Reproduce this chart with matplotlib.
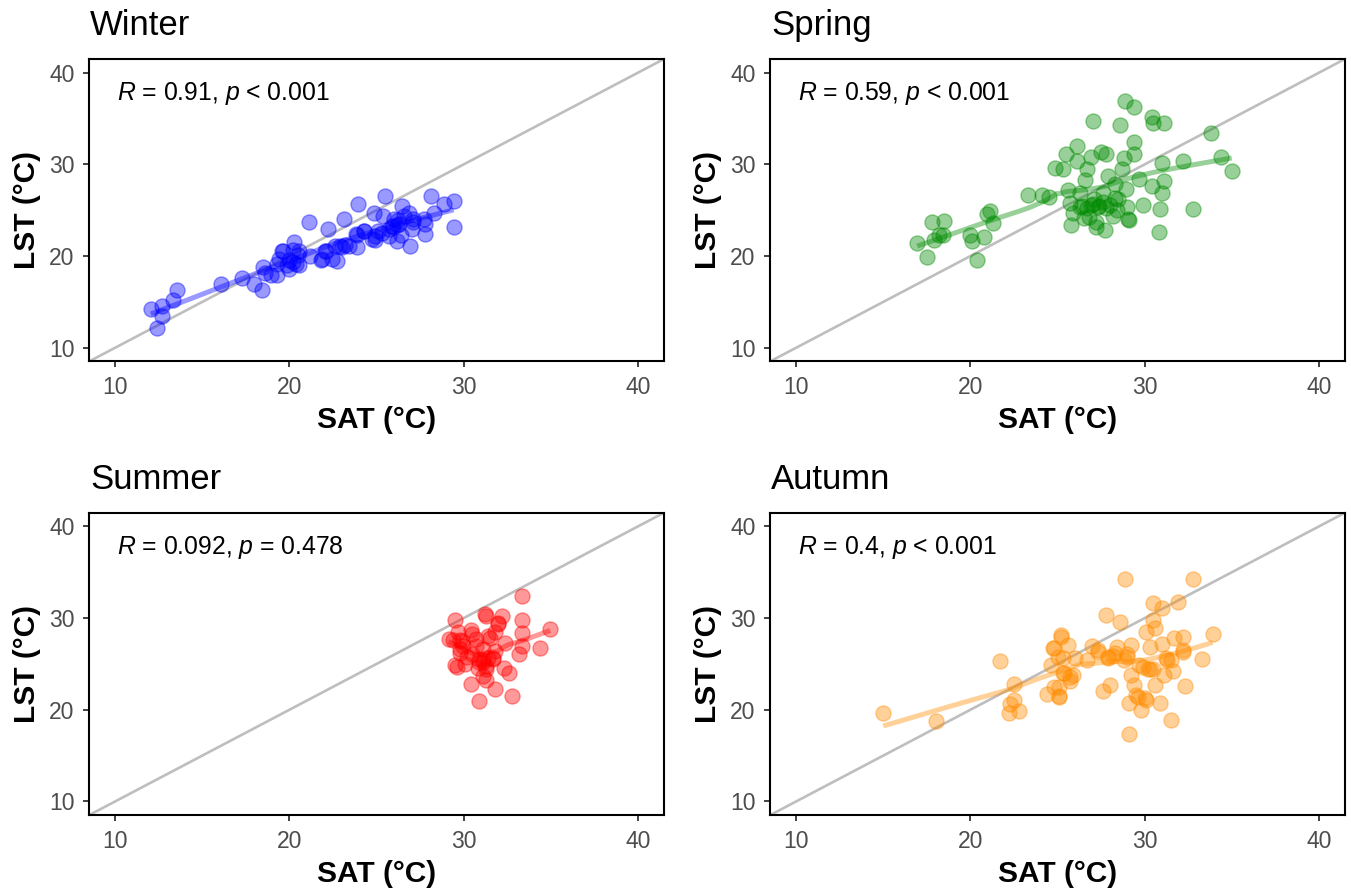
import numpy as np
import matplotlib
matplotlib.use("Agg")
import matplotlib.pyplot as plt

plt.rcParams['font.family'] = ['Liberation Sans', 'DejaVu Sans']
plt.rcParams['mathtext.fontset'] = 'custom'
plt.rcParams['mathtext.rm'] = 'Liberation Sans'
plt.rcParams['mathtext.it'] = 'Liberation Sans:italic'

seasons = ["Winter", "Spring", "Summer", "Autumn"]
colors = ["#0000FF", "#008B00", "#FF0000", "#FF8C00"]
r_values = ["0.91", "0.59", "0.092", "0.4"]
p_values = ["< 0.001", "< 0.001", "= 0.478", "< 0.001"]
ticks = [10, 20, 30, 40]

winter_sat = [12.05, 12.67, 12.7, 12.4, 13.3, 13.57, 16.1, 17.3, 17.97, 18.44, 18.5, 18.6, 18.92, 19.3,
              19.3, 19.4, 19.6, 19.65, 19.87, 19.97, 20.0, 20.2, 20.2, 20.26, 20.4, 20.5, 20.55, 20.55,
              21.12, 21.18, 21.8, 21.88, 22.07, 22.1, 22.22, 22.45, 22.6, 22.74, 22.9, 23.0, 23.12, 23.2,
              23.4, 23.8, 23.86, 23.87, 23.94, 24.27, 24.3, 24.75, 24.85, 24.9, 24.94, 25.1, 25.3, 25.4,
              25.5, 25.7, 25.7, 25.9, 25.96, 26.0, 26.15, 26.2, 26.25, 26.3, 26.4, 26.47, 26.56, 26.84,
              26.94, 27.03, 27.1, 27.1, 27.7, 27.8, 27.8, 28.1, 28.3, 28.85, 29.43, 29.43]
winter_lst = [14.2, 14.5, 13.5, 12.1, 15.2, 16.3, 17.0, 17.6, 17.0, 16.3, 18.8, 18.2, 17.9, 17.9,
              19.1, 19.7, 20.6, 20.5, 19.0, 18.6, 19.6, 19.3, 20.7, 21.5, 19.1, 20.1, 20.6, 19.0,
              23.7, 20.0, 19.6, 19.7, 20.6, 20.5, 23.0, 19.7, 21.1, 19.5, 21.1, 21.0, 24.0, 21.25,
              21.1, 22.4, 22.3, 21.0, 25.65, 22.76, 22.7, 21.85, 24.75, 21.8, 22.2, 22.7, 22.5, 24.4,
              26.55, 22.2, 23.0, 23.3, 23.2, 24.0, 23.4, 21.67, 23.9, 23.5, 22.3, 25.47, 24.4, 24.75,
              21.1, 22.95, 23.7, 24.0, 24.0, 23.5, 22.4, 26.55, 24.75, 25.65, 26.0, 23.2]

spring_sat = [16.95, 17.5, 17.8, 17.9, 18.2, 18.45, 18.5, 20.0, 20.1, 20.4, 20.8, 20.95, 21.1, 21.3,
              23.33, 24.1, 24.5, 24.86, 25.3, 25.5, 25.6, 25.7, 25.8, 25.9, 26.1, 26.1, 26.3, 26.4,
              26.6, 26.7, 26.95, 26.5, 26.9, 27.05, 27.1, 27.2, 27.4, 27.5, 27.6, 27.7, 27.8, 27.9,
              28.0, 28.2, 28.3, 28.5, 28.6, 28.7, 28.8, 28.86, 28.95, 29.05, 29.4, 29.4, 29.4, 29.7,
              29.9, 30.4, 30.4, 30.5, 30.8, 30.9, 31.0, 31.0, 31.1, 31.1, 32.2, 32.8, 33.8, 34.4, 35.0,
              26.3, 26.7, 27.05, 27.3, 27.6, 27.8, 28.3, 28.4, 27.2, 26.8, 29.0, 29.1]
spring_lst = [21.4, 19.86, 23.73, 21.7, 22.3, 22.3, 23.8, 22.3, 21.6, 19.6, 22.1, 24.56, 24.9, 23.65,
              26.63, 26.7, 26.4, 29.64, 29.5, 31.1, 27.2, 25.8, 23.4, 24.75, 32.0, 30.4, 26.9, 25.5,
              28.3, 29.5, 30.8, 24.2, 25.6, 34.7, 26.2, 23.7, 25.5, 31.3, 26.9, 22.8, 31.1, 28.7,
              25.6, 24.4, 27.9, 26.2, 34.35, 29.5, 30.7, 36.9, 27.3, 24.0, 36.3, 32.4, 31.1, 28.4,
              25.6, 35.2, 27.6, 34.5, 22.6, 25.1, 30.2, 26.9, 34.5, 28.2, 30.4, 25.1, 33.4, 30.8, 29.3,
              25.4, 25.2, 25.7, 25.4, 25.9, 25.2, 26.3, 25.05, 23.2, 24.3, 25.4, 23.9]

summer_sat = [33.34, 29.48, 31.2, 32.2, 32.0, 33.34, 34.97, 33.34, 29.7, 30.4, 29.14, 29.9, 30.7, 31.4,
              31.8, 32.4, 33.34, 33.2, 34.4, 29.8, 30.5, 30.9, 31.1, 31.4, 31.7, 29.5, 30.1, 31.3,
              32.3, 32.6, 31.1, 31.3, 30.4, 31.8, 30.9, 32.8, 30.7, 31.1, 31.8,
              29.8, 29.4, 29.98, 30.9, 31.1, 30.8, 31.3, 31.7, 29.8, 29.6, 30.5, 31.3, 31.98, 31.5, 30.2]
summer_lst = [32.4, 29.8, 30.4, 30.2, 29.5, 29.8, 28.8, 28.4, 28.5, 28.7, 27.7, 27.5, 27.7, 28.0,
              28.5, 27.3, 27.0, 26.1, 26.7, 26.6, 26.1, 25.5, 25.2, 25.7, 25.5, 24.9, 25.0, 24.4,
              24.6, 24.0, 23.7, 23.3, 22.8, 22.3, 21.0, 21.5, 27.0, 26.6, 26.4,
              27.6, 27.6, 27.0, 25.2, 25.4, 24.6, 24.8, 25.6, 26.2, 24.7, 28.3, 30.2, 29.4, 27.8, 25.8]

autumn_sat = [15.0, 18.0, 21.7, 22.5, 22.5, 22.3, 22.2, 22.8, 24.4, 24.6, 24.8, 25.1, 25.1, 25.2, 25.3,
              25.4, 25.6, 25.7, 25.9, 26.0, 26.7, 27.0, 27.3, 27.6, 27.8, 27.9, 28.0, 28.2, 28.4, 28.6,
              28.8, 28.9, 29.0, 29.1, 29.1, 29.2, 29.2, 29.4, 29.5, 29.7, 29.8, 30.0, 30.1, 30.2, 30.3,
              30.5, 30.5, 30.6, 30.5, 30.6, 30.9, 31.0, 31.0, 31.1, 31.2, 31.5, 31.5, 31.6, 31.7, 31.9,
              32.2, 32.2, 32.3, 32.8, 33.3, 33.9,
              25.2, 24.75, 25.0, 25.3, 25.7, 24.8, 25.1, 27.3, 27.9, 28.3, 28.97, 29.9, 30.3, 31.3, 32.2,
              29.6, 30.1]
autumn_lst = [19.7, 18.77, 25.35, 22.8, 21.1, 20.6, 19.6, 19.9, 21.7, 24.9, 26.7, 22.5, 21.5, 28.2, 25.6,
              24.0, 27.1, 23.1, 23.8, 25.6, 25.4, 27.0, 26.3, 22.1, 30.3, 25.6, 22.7, 25.9, 26.8, 29.6,
              25.4, 34.3, 26.1, 20.7, 17.4, 27.1, 23.8, 22.7, 21.6, 24.9, 20.0, 21.3, 28.5, 24.5, 26.8,
              31.6, 29.8, 28.9, 24.5, 22.7, 20.7, 31.1, 27.2, 23.8, 25.6, 18.9, 25.4, 24.2, 27.8, 31.8,
              27.9, 26.5, 22.6, 34.3, 25.5, 28.3,
              27.97, 26.7, 25.8, 24.0, 23.6, 22.5, 21.4, 26.5, 25.8, 26.2, 25.8, 24.7, 24.4, 25.4, 26.3,
              21.4, 21.1]

sat_data = [winter_sat, spring_sat, summer_sat, autumn_sat]
lst_data = [winter_lst, spring_lst, summer_lst, autumn_lst]


def loess(x, y, xs, span=0.75):
    x = np.asarray(x, float)
    y = np.asarray(y, float)
    n = len(x)
    q = int(np.floor(n * span))
    out = []
    for x0 in xs:
        d = np.abs(x - x0)
        h = max(np.sort(d)[q - 1], 1e-9) * 1.05
        w = np.clip(1 - (d / h) ** 3, 0, None) ** 3
        X = np.column_stack([np.ones(n), x - x0])
        Wt = np.sqrt(w)
        beta, *_ = np.linalg.lstsq(X * Wt[:, None], y * Wt, rcond=None)
        out.append(beta[0])
    return np.array(out)


W, H = 1351, 888
fig = plt.figure(figsize=(W / 100, H / 100), dpi=100)
lefts = [89, 770, 89, 770]
tops = [59, 59, 512.7, 512.7]
aw, ah = 575, 302.5

for i in range(4):
    ax = fig.add_axes([lefts[i] / W, 1 - (tops[i] + ah) / H, aw / W, ah / H])
    ax.set_xlim(8.5, 41.5)
    ax.set_ylim(8.5, 41.5)
    ax.axline((10, 10), slope=1, color="#BEBEBE", lw=1.9, zorder=1)
    xs = np.linspace(min(sat_data[i]), max(sat_data[i]), 80)
    ax.plot(xs, loess(sat_data[i], lst_data[i], xs), color=colors[i], alpha=0.4, lw=3.6,
            solid_capstyle='butt', zorder=2)
    ax.scatter(sat_data[i], lst_data[i], s=118, facecolor=colors[i], edgecolor=colors[i],
               alpha=0.4, linewidths=1.0, zorder=3)
    ax.set_xticks(ticks)
    ax.set_yticks(ticks)
    ax.tick_params(axis='both', labelsize=16.5, labelcolor="#4D4D4D", color="#333333",
                   length=4.5, width=1.3, pad=6)
    for s in ax.spines.values():
        s.set_linewidth(1.5)
        s.set_color("black")
    ax.set_xlabel("SAT (°C)", fontsize=21.5, fontweight='bold', labelpad=5)
    ax.set_ylabel("LST (°C)", fontsize=21.5, fontweight='bold', labelpad=6)
    ax.set_title(seasons[i], loc='left', fontsize=25, pad=17, x=0.002)
    ax.text(0.048, 0.885, r"$\it{R}$ = " + r_values[i] + r", $\it{p}$ " + p_values[i],
            transform=ax.transAxes, fontsize=17.8, va='center', ha='left')

fig.savefig("out.png", dpi=100)
